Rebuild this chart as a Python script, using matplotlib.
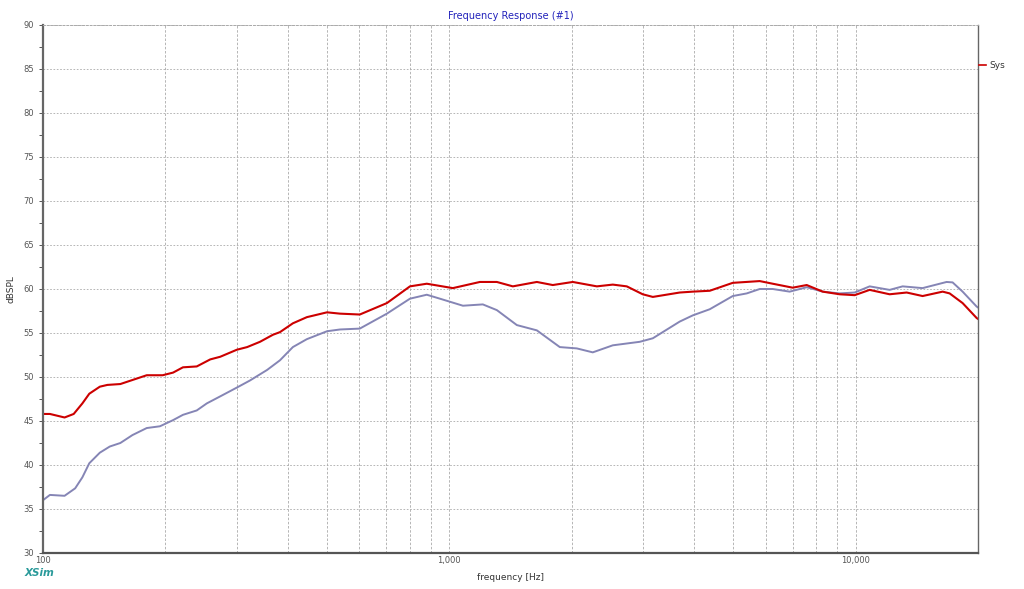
import matplotlib.pyplot as plt
from matplotlib.ticker import FixedLocator, NullFormatter, MultipleLocator

# Sys response (red)
sys_freq = [100, 104, 113, 119, 125, 130, 138, 144, 155, 180, 197, 209, 221, 239, 258,
            273, 300, 318, 342, 368, 383, 412, 446, 500, 538, 602, 702, 800, 880,
            1020, 1189, 1309, 1433, 1642, 1797, 2013, 2307, 2525, 2733, 2992, 3168,
            3690, 3972, 4374, 4983, 5806, 6249, 6998, 7577, 8296, 9133, 9942, 10825,
            12120, 13350, 14610, 16370, 17030, 18330, 19850, 20000]
sys_db = [45.8, 45.8, 45.4, 45.8, 47.0, 48.1, 48.9, 49.1, 49.2, 50.2, 50.2, 50.5, 51.1,
          51.2, 52.0, 52.3, 53.1, 53.4, 54.0, 54.8, 55.1, 56.1, 56.8, 57.35, 57.2,
          57.1, 58.4, 60.3, 60.6, 60.1, 60.8, 60.8, 60.3, 60.8, 60.45, 60.8, 60.3,
          60.5, 60.3, 59.4, 59.1, 59.6, 59.7, 59.8, 60.7, 60.9, 60.6, 60.15, 60.45,
          59.7, 59.4, 59.3, 59.9, 59.4, 59.6, 59.2, 59.7, 59.5, 58.4, 56.7, 56.6]

# second trace (lavender)
ref_freq = [100, 104, 113, 120, 125, 130, 138, 146, 155, 166, 180, 194, 209, 221,
            239, 253, 273, 300, 323, 356, 383, 412, 446, 500, 538, 602, 702, 800,
            880, 948, 1080, 1209, 1309, 1466, 1642, 1870, 2059, 2254, 2525, 2942,
            3168, 3690, 3972, 4374, 4983, 5395, 5806, 6249, 6879, 7577, 8296, 9133,
            9942, 10825, 12120, 13050, 14610, 16740, 17320, 18330, 19850, 20000]
ref_db = [36.0, 36.6, 36.5, 37.35, 38.6, 40.2, 41.4, 42.1, 42.5, 43.4, 44.2, 44.4,
          45.1, 45.7, 46.2, 47.0, 47.8, 48.8, 49.6, 50.8, 51.9, 53.4, 54.3, 55.2,
          55.4, 55.5, 57.2, 58.9, 59.35, 58.9, 58.1, 58.25, 57.6, 55.9, 55.3, 53.4,
          53.25, 52.8, 53.6, 54.0, 54.4, 56.3, 57.0, 57.7, 59.2, 59.5, 60.0, 60.0,
          59.7, 60.2, 59.7, 59.5, 59.6, 60.3, 59.9, 60.3, 60.1, 60.8, 60.75, 59.7,
          58.0, 57.9]

fig = plt.figure(figsize=(10.24, 5.89), dpi=100)
ax = fig.add_axes([43 / 1024, 1 - 553 / 589, 935 / 1024, 528 / 589])

ax.plot(ref_freq, ref_db, color='#8585b5', lw=1.4)
ax.plot(sys_freq, sys_db, color='#cc0000', lw=1.5)

ax.set_xscale('log')
ax.set_xlim(100, 20000)
ax.set_ylim(30, 90)

ax.xaxis.set_major_locator(FixedLocator([100, 1000, 10000]))
ax.xaxis.set_minor_locator(FixedLocator(
    [k * 10 ** e for e in (2, 3) for k in range(2, 10)]))
ax.xaxis.set_minor_formatter(NullFormatter())
ax.set_xticklabels(['100', '1,000', '10,000'])
ax.yaxis.set_major_locator(MultipleLocator(5))
ax.yaxis.set_minor_locator(MultipleLocator(2.5))

ax.grid(True, which='major', axis='y', color='#aaaaaa', ls=(0, (2, 2)), lw=0.6)
ax.grid(True, which='both', axis='x', color='#aaaaaa', ls=(0, (3, 2)), lw=0.6)

ax.tick_params(axis='both', which='both', labelsize=6, colors='#555555',
               length=3, width=0.7)
ax.tick_params(axis='x', which='minor', length=0)
ax.tick_params(axis='x', which='major', length=0, pad=2)

for side in ('left', 'right'):
    ax.spines[side].set_color('#666666')
ax.spines['left'].set_linewidth(1.6)
ax.spines['right'].set_linewidth(1.0)
ax.spines['bottom'].set_color('#555555')
ax.spines['bottom'].set_linewidth(1.6)
ax.spines['bottom'].set_linestyle((0, (2, 1)))
ax.spines['top'].set_color('#aaaaaa')
ax.spines['top'].set_linestyle((0, (2, 2)))
ax.spines['top'].set_linewidth(0.7)

ax.set_title('Frequency Response (#1)', fontsize=7, color='#2222bb', pad=4)
ax.set_xlabel('frequency [Hz]', fontsize=6.5, color='#333333', labelpad=6)
ax.set_ylabel('dBSPL', fontsize=6.5, color='#333333', labelpad=6)

# legend entry on the right
fig.add_artist(plt.Line2D([979 / 1024, 986 / 1024], [1 - 65 / 589] * 2,
                          color='#cc0000', lw=1.2))
fig.text(989 / 1024, 1 - 65 / 589, 'Sys', fontsize=6.5, color='#333333',
         va='center', ha='left')

fig.text(25 / 1024, 1 - 573 / 589, 'XSim', fontsize=7.5, color='#2a9a9a',
         style='italic', weight='bold', va='center', ha='left')

fig.savefig('out.png', dpi=100)
